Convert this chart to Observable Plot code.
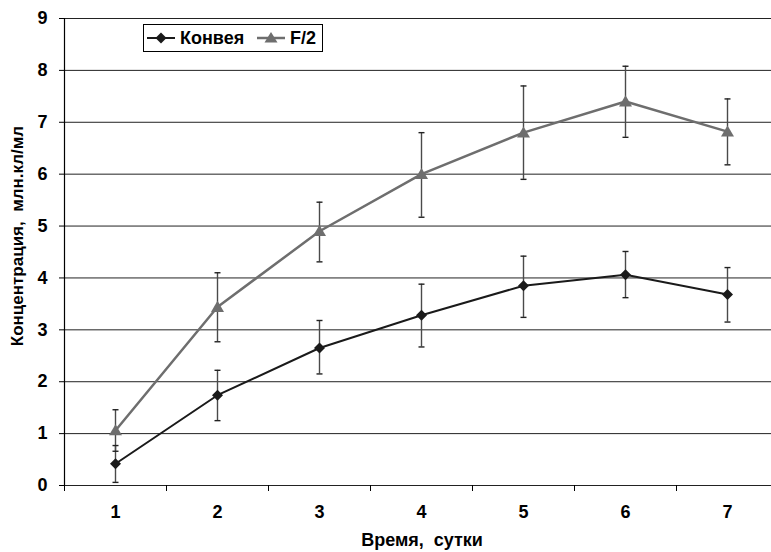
<!DOCTYPE html>
<html>
<head>
<meta charset="utf-8">
<script src="https://cdn.jsdelivr.net/npm/d3@7"></script>
<script src="https://cdn.jsdelivr.net/npm/@observablehq/plot@0.6"></script>
<style>
  body { margin: 0; background: #fff; }
  #chart { position: relative; width: 771px; height: 552px; }
  .legend {
    position: absolute; left: 143px; top: 24px; width: 178px; height: 26px;
    border: 1px solid #000; background: #fff;
    font: bold 18px "Liberation Sans", Arial, sans-serif; color: #000;
  }
  .legend svg, .legend span { position: absolute; display: block; }
  .legend span { top: 3px; line-height: 20px; }
</style>
</head>
<body>
<div id="chart"></div>
<script>
// ---- data ----
const days = [1, 2, 3, 4, 5, 6, 7];
const seriesNames = ["Конвея", "F/2"];
const konveyMean = [0.42, 1.74, 2.65, 3.28, 3.85, 4.06, 3.68];
const konveyLow  = [0.06, 1.25, 2.15, 2.67, 3.24, 3.62, 3.15];
const konveyHigh = [0.77, 2.22, 3.18, 3.88, 4.42, 4.51, 4.20];
const f2Mean = [1.06, 3.44, 4.90, 6.00, 6.80, 7.40, 6.82];
const f2Low  = [0.66, 2.77, 4.31, 5.17, 5.90, 6.71, 6.18];
const f2High = [1.46, 4.10, 5.46, 6.80, 7.70, 8.08, 7.45];
const yTicks = [0, 1, 2, 3, 4, 5, 6, 7, 8, 9];
const xTitle = "Время,  сутки";
const yTitle = "Концентрация,  млн.кл/мл";
const colors = ["#1a1a1a", "#6e6e6e"];

const table = days.flatMap((d, i) => [
  {day: d, series: seriesNames[0], mean: konveyMean[i], low: konveyLow[i], high: konveyHigh[i]},
  {day: d, series: seriesNames[1], mean: f2Mean[i], low: f2Low[i], high: f2High[i]}
]);
const konvey = table.filter(d => d.series === seriesNames[0]);
const f2 = table.filter(d => d.series === seriesNames[1]);
const boundaries = days.map(d => d - 0.5);

// custom symbols
const capSymbol = { draw(ctx, size) { const r = Math.sqrt(size / Math.PI); ctx.moveTo(-r, 0); ctx.lineTo(r, 0); } };
const diamondSymbol = { draw(ctx, size) { const r = Math.sqrt(size / Math.PI); ctx.moveTo(0, -r); ctx.lineTo(r, 0); ctx.lineTo(0, r); ctx.lineTo(-r, 0); ctx.closePath(); } };
const triSymbol = { draw(ctx, size) { const r = Math.sqrt(size / Math.PI); ctx.moveTo(0, -r * 0.95); ctx.lineTo(r, r * 0.75); ctx.lineTo(-r, r * 0.75); ctx.closePath(); } };

const font = "Liberation Sans, Arial, sans-serif";

const chart = Plot.plot({
  width: 771,
  height: 552,
  marginLeft: 64,
  marginRight: 0,
  marginTop: 18,
  marginBottom: 67,
  style: { fontFamily: font, fontSize: "18px", fontWeight: "bold", color: "#000", background: "#fff" },
  x: { domain: [0.5, 7.5], range: [64, 778] },
  y: { domain: [0, 9], range: [485, 18] },
  marks: [
    Plot.ruleY(yTicks, { stroke: "#222", strokeWidth: 1 }),
    Plot.ruleX([boundaries[0]], { stroke: "#000", strokeWidth: 1.2 }),
    Plot.axisY({ ticks: yTicks, tickSize: 5, tickPadding: 12, tickFormat: d3.format("d"), label: null, stroke: "#000" }),
    Plot.axisX({ ticks: boundaries, tickSize: 6, tickFormat: () => "", label: null, stroke: "#000" }),
    Plot.axisX({ ticks: days, tickSize: 0, tickPadding: 20, tickFormat: d3.format("d"), label: null }),
    Plot.text([xTitle], { frameAnchor: "bottom", lineAnchor: "top", textAnchor: "middle", dy: 48, dx: 4, fontSize: 18, fontWeight: "bold", fontFamily: font, fill: "#000" }),
    Plot.text([yTitle], { frameAnchor: "left", textAnchor: "middle", rotate: -90, dx: -47, dy: -16, fontSize: 17, fontWeight: "bold", fontFamily: font, fill: "#000" }),
    // error bars
    Plot.ruleX(table, { x: "day", y1: "low", y2: "high", stroke: "#4a4a4a", strokeWidth: 1.4 }),
    Plot.dot(table, { x: "day", y: "low", symbol: capSymbol, r: 3, stroke: "#222", strokeWidth: 1.4, fill: "none" }),
    Plot.dot(table, { x: "day", y: "high", symbol: capSymbol, r: 3, stroke: "#222", strokeWidth: 1.4, fill: "none" }),
    // lines
    Plot.line(f2, { x: "day", y: "mean", stroke: colors[1], strokeWidth: 2.5 }),
    Plot.line(konvey, { x: "day", y: "mean", stroke: colors[0], strokeWidth: 2 }),
    Plot.dot(f2, { x: "day", y: "mean", symbol: triSymbol, r: 6.5, fill: colors[1], stroke: "none" }),
    Plot.dot(konvey, { x: "day", y: "mean", symbol: diamondSymbol, r: 5.5, fill: colors[0], stroke: "none" })
  ]
});

const wrap = document.getElementById("chart");
wrap.appendChild(chart);

// legend
const legend = document.createElement("div");
legend.className = "legend";
function sample(color, shape, width, left) {
  const marker = shape === "diamond"
    ? `<path d="M14,8.5 L19.5,14 L14,19.5 L8.5,14 Z" fill="${color}"/>`
    : `<path d="M14,8 L20.5,18.5 L7.5,18.5 Z" fill="${color}"/>`;
  return `<svg style="left:${left}px;top:-1px" width="28" height="28" viewBox="0 0 28 28"><line x1="0" y1="14" x2="28" y2="14" stroke="${color}" stroke-width="${width}"/>${marker}</svg>`;
}
legend.innerHTML =
  sample(colors[0], "diamond", 2, 3) + `<span style="left:36px">${seriesNames[0]}</span>` +
  sample(colors[1], "triangle", 2.5, 113) + `<span style="left:146px">${seriesNames[1]}</span>`;
wrap.appendChild(legend);
</script>
</body>
</html>
